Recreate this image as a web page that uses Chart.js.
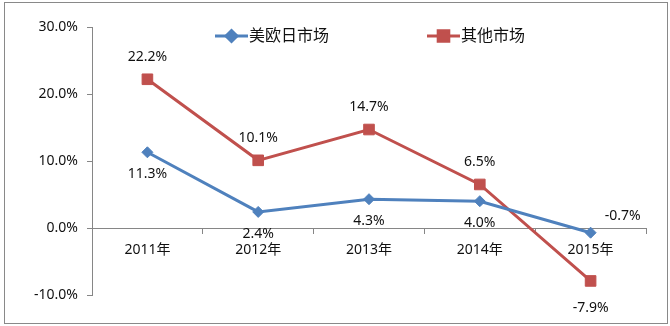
<!DOCTYPE html>
<html>
<head>
<meta charset="utf-8">
<script src="https://cdn.jsdelivr.net/npm/chart.js@4.4.1/dist/chart.umd.min.js"></script>
<style>
  html, body { margin: 0; padding: 0; background: #fff; }
  #wrap { position: relative; width: 670px; height: 326px; }
  #frame {
    position: absolute; left: 4px; top: 2px; width: 664px; height: 322px;
    border: 1px solid #898989; box-sizing: border-box; pointer-events: none;
  }
</style>
</head>
<body>
<div id="wrap">
  <canvas id="chart" width="670" height="326"></canvas>
  <div id="frame"></div>
</div>
<script>
const years = ['2011年', '2012年', '2013年', '2014年', '2015年']
const usEuJapan = [11.3, 2.4, 4.3, 4.0, -0.7]
const otherMarkets = [22.2, 10.1, 14.7, 6.5, -7.9]
const yMin = -10
const yMax = 30
const yStep = 10

// where each value label sits relative to its point
const usEuJapanSides = ['below', 'below', 'below', 'below', 'aboveRight']
const otherSides = ['above', 'above', 'above', 'above', 'below']

const BLUE = '#4F81BD'
const RED = '#C0504D'
const AXIS = '#868686'
const TEXT = '#111'
const FONT = '"Noto Sans", "Noto Sans CJK SC", sans-serif'

Chart.defaults.font.family = FONT
Chart.defaults.color = TEXT

const fmt = (v) => `${v.toFixed(1)}%`

const valueLabels = {
  id: 'valueLabels',
  afterDatasetsDraw(chart) {
    const { ctx } = chart
    ctx.save()
    ctx.font = `14px ${FONT}`
    ctx.fillStyle = TEXT
    ctx.textAlign = 'center'
    ctx.textBaseline = 'middle'
    chart.data.datasets.forEach((ds, i) => {
      const meta = chart.getDatasetMeta(i)
      meta.data.forEach((pt, j) => {
        const side = ds.labelSides[j]
        const off = ds.labelOffsets[side]
        ctx.fillText(fmt(ds.data[j]), pt.x + off[0], pt.y + off[1])
      })
    })
    ctx.restore()
  },
}

const lineLegend = {
  id: 'lineLegend',
  afterDraw(chart) {
    const { ctx } = chart
    const starts = [215, 427]
    const y = 36
    ctx.save()
    chart.data.datasets.forEach((ds, i) => {
      const x = starts[i]
      ctx.strokeStyle = ds.borderColor
      ctx.lineWidth = 3
      ctx.beginPath()
      ctx.moveTo(x, y)
      ctx.lineTo(x + 33, y)
      ctx.stroke()
      ctx.fillStyle = ds.pointBackgroundColor
      ctx.strokeStyle = ds.pointBorderColor
      Chart.helpers.drawPoint(ctx, {
        pointStyle: ds.pointStyle,
        radius: ds.pointRadius,
        borderWidth: 1,
      }, x + 16.5, y)
      ctx.font = `16px ${FONT}`
      ctx.fillStyle = TEXT
      ctx.textAlign = 'left'
      ctx.textBaseline = 'middle'
      ctx.fillText(ds.label, x + 34, y)
    })
    ctx.restore()
  },
}

new Chart(document.getElementById('chart'), {
  type: 'line',
  data: {
    labels: years,
    datasets: [
      {
        label: '美欧日市场',
        data: usEuJapan,
        borderColor: BLUE,
        backgroundColor: BLUE,
        pointBackgroundColor: BLUE,
        pointBorderColor: BLUE,
        pointStyle: 'rectRot',
        pointRadius: 5.5,
        pointBorderWidth: 1,
        borderWidth: 3,
        tension: 0,
        labelSides: usEuJapanSides,
        labelOffsets: { above: [0, -22], below: [0, 22], aboveRight: [32, -17] },
      },
      {
        label: '其他市场',
        data: otherMarkets,
        borderColor: RED,
        backgroundColor: RED,
        pointBackgroundColor: RED,
        pointBorderColor: RED,
        pointStyle: 'rect',
        pointRadius: 7.5,
        pointBorderWidth: 1,
        borderWidth: 3,
        tension: 0,
        labelSides: otherSides,
        labelOffsets: { above: [0, -22], below: [0, 27], aboveRight: [32, -17] },
      },
    ],
  },
  options: {
    responsive: false,
    animation: false,
    layout: { padding: { left: 0, top: 27, right: 24, bottom: 31 } },
    plugins: {
      legend: { display: false },
      tooltip: { enabled: false },
    },
    scales: {
      x: {
        type: 'category',
        position: { y: 0 },
        offset: true,
        grid: {
          offset: true,
          drawOnChartArea: false,
          drawTicks: true,
          tickLength: 5,
          color: AXIS,
        },
        border: { color: AXIS, width: 1 },
        ticks: { padding: 9, color: TEXT, font: { size: 14 }, maxRotation: 0 },
      },
      y: {
        min: yMin,
        max: yMax,
        grid: {
          drawOnChartArea: false,
          drawTicks: true,
          tickLength: 5,
          color: AXIS,
        },
        border: { color: AXIS, width: 1 },
        ticks: {
          stepSize: yStep,
          padding: 9,
          color: TEXT,
          font: { size: 14 },
          callback: (v) => fmt(v),
        },
        afterFit(scale) {
          scale.width = 92
        },
      },
    },
  },
  plugins: [valueLabels, lineLegend],
})
</script>
</body>
</html>
